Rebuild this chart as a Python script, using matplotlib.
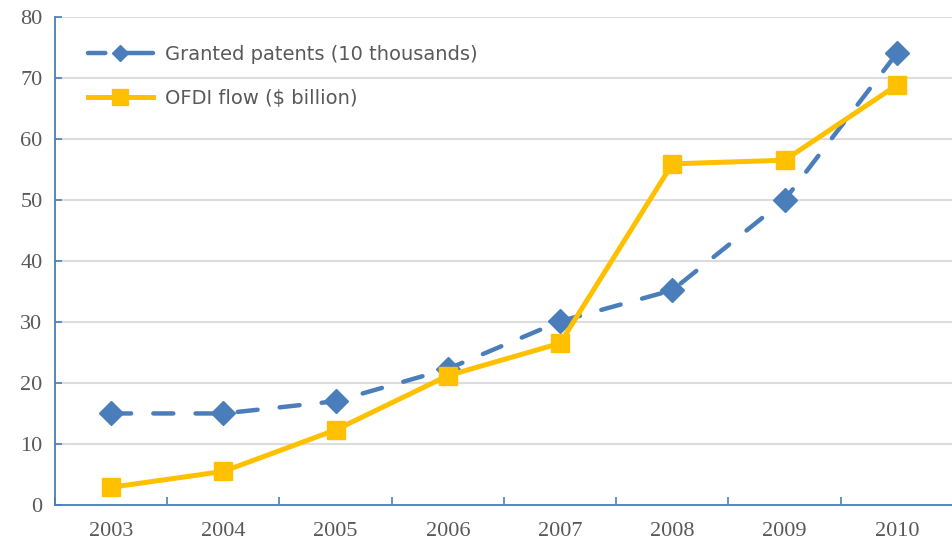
import numpy as np
import matplotlib.pyplot as plt

years = ['2003', '2004', '2005', '2006', '2007', '2008', '2009', '2010']
patents = [15, 15, 17, 22.3, 30.1, 35.2, 50, 74]
ofdi = [2.9, 5.5, 12.3, 21.2, 26.5, 55.9, 56.5, 68.8]

blue = '#4a7ebb'
gold = '#ffc000'
grey = '#595959'

fig = plt.figure(figsize=(9.53, 5.51), dpi=100)
ax = fig.add_axes([0.0577, 0.0835, 0.9423, 0.886])

x = np.arange(len(years))
ax.plot(x, patents, '--D', color=blue, lw=3.2, ms=12, dashes=(4.5, 5),
        dash_capstyle='round', label='Granted patents (10 thousands)', zorder=3)
ax.plot(x, ofdi, '-s', color=gold, lw=3.6, ms=13,
        label='OFDI flow ($ billion)', zorder=4)

ax.set_ylim(0, 80)
ax.set_yticks(range(0, 81, 10))
ax.set_xlim(-0.5, 7.41)
ax.set_xticks(x)
ax.set_xticklabels(years)
ax.set_xticks(np.arange(-0.5, 8, 1), minor=True)

ax.grid(axis='y', color='#dcdcdc', lw=1.5)
ax.set_axisbelow(True)
for s in ['top', 'right']:
    ax.spines[s].set_visible(False)
for s in ['left', 'bottom']:
    ax.spines[s].set_color(blue)
    ax.spines[s].set_linewidth(1.3)

ax.tick_params(axis='x', which='major', length=0, pad=12)
ax.tick_params(axis='x', which='minor', direction='in', length=6, color=blue, width=1.2)
ax.tick_params(axis='y', direction='in', length=5, color=blue, width=1.2, pad=9)
for lab in ax.get_xticklabels() + ax.get_yticklabels():
    lab.set_family('Liberation Serif')
    lab.set_fontsize(16)
    lab.set_color(grey)

leg = ax.legend(loc='upper left', bbox_to_anchor=(0.028, 0.959), borderaxespad=0,
                frameon=False, handlelength=3.35, handletextpad=0.6,
                labelspacing=1.3, fontsize=14)
# legend sample: dash, gap, diamond joined to a long dash
leg.legend_handles[0].set_dashes([3.9, 3.3, 12, 1])
leg.legend_handles[0].set_markersize(8.5)
leg.legend_handles[1].set_markersize(11)
for t in leg.get_texts():
    t.set_color(grey)

fig.savefig('out.png', dpi=100)
